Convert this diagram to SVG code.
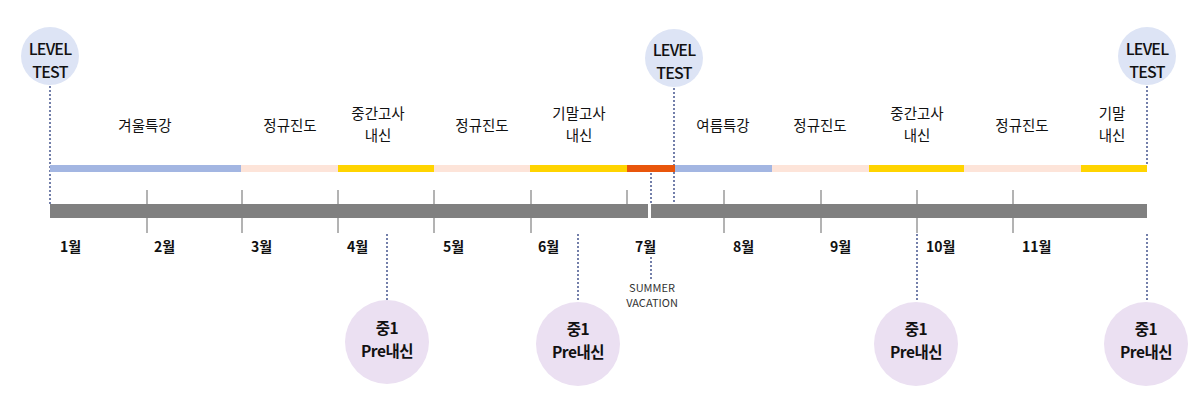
<svg xmlns="http://www.w3.org/2000/svg" width="1200" height="400" viewBox="0 0 1200 400">
<style>
text{font-family:"Noto Sans CJK KR","Malgun Gothic",sans-serif;fill:#111;text-anchor:middle}
.lt{font-size:16px;font-weight:500;letter-spacing:-0.8px}
.ph{font-size:14.5px}
.mo{font-size:14px;font-weight:700;text-anchor:start}
.pre{font-size:15.5px;font-weight:700;letter-spacing:-0.5px}
.sv{font-size:11px;fill:#333}
.lc{fill:#dde4f5}
.pc{fill:#ebe0f2}
.dot{stroke:#45558f;stroke-width:1.5;stroke-dasharray:2 2;fill:none}
.tick{stroke:#9a9a9a;stroke-width:1.5}
.bar{fill:#808080}
.blue{fill:#a3b6e2}.peach{fill:#fde4d9}.yel{fill:#ffd400}.org{fill:#e9560c}
</style>
<g id="connectors">
<line class="dot" x1="50" y1="86" x2="50" y2="204"/>
<line class="dot" x1="674" y1="88" x2="674" y2="204"/>
<line class="dot" x1="1147" y1="86" x2="1147" y2="165"/>
<line class="dot" x1="651" y1="173" x2="651" y2="204"/>
<line class="dot" x1="651" y1="257" x2="651" y2="279"/>
<line class="dot" x1="387" y1="234" x2="387" y2="300"/>
<line class="dot" x1="578" y1="234" x2="578" y2="300"/>
<line class="dot" x1="917" y1="234" x2="917" y2="300"/>
<line class="dot" x1="1147" y1="234" x2="1147" y2="300"/>
</g>
<g id="phase-bar">
<rect class="blue" x="50" y="165" width="191" height="7"/>
<rect class="peach" x="241" y="165" width="97" height="7"/>
<rect class="yel" x="338" y="165" width="96" height="7"/>
<rect class="peach" x="434" y="165" width="96" height="7"/>
<rect class="yel" x="530" y="165" width="97" height="7"/>
<rect class="org" x="627" y="165" width="48" height="7"/>
<rect class="blue" x="675" y="165" width="97" height="7"/>
<rect class="peach" x="772" y="165" width="97" height="7"/>
<rect class="yel" x="869" y="165" width="95" height="7"/>
<rect class="peach" x="964" y="165" width="117" height="7"/>
<rect class="yel" x="1081" y="165" width="66" height="7"/>
</g>
<g id="phase-labels">
<text class="ph" x="145" y="131">겨울특강</text>
<text class="ph" x="290" y="131">정규진도</text>
<text class="ph" x="378" y="119">중간고사</text>
<text class="ph" x="378" y="141">내신</text>
<text class="ph" x="482" y="131">정규진도</text>
<text class="ph" x="579" y="119">기말고사</text>
<text class="ph" x="579" y="141">내신</text>
<text class="ph" x="723" y="131">여름특강</text>
<text class="ph" x="820" y="131">정규진도</text>
<text class="ph" x="917" y="119">중간고사</text>
<text class="ph" x="917" y="141">내신</text>
<text class="ph" x="1022" y="131">정규진도</text>
<text class="ph" x="1112" y="119">기말</text>
<text class="ph" x="1112" y="141">내신</text>
</g>
<g id="axis">
<line class="tick" x1="147" y1="190" x2="147" y2="233"/>
<line class="tick" x1="242" y1="190" x2="242" y2="233"/>
<line class="tick" x1="338" y1="190" x2="338" y2="233"/>
<line class="tick" x1="434" y1="190" x2="434" y2="233"/>
<line class="tick" x1="531" y1="190" x2="531" y2="233"/>
<line class="tick" x1="627" y1="190" x2="627" y2="204"/>
<line class="tick" x1="724" y1="190" x2="724" y2="233"/>
<line class="tick" x1="821" y1="190" x2="821" y2="233"/>
<line class="tick" x1="917" y1="190" x2="917" y2="233"/>
<line class="tick" x1="1013" y1="190" x2="1013" y2="233"/>
<rect class="bar" x="50" y="204" width="598" height="14"/>
<rect class="bar" x="651" y="204" width="496" height="14"/>
</g>
<g id="months">
<text class="mo" x="60" y="252">1월</text>
<text class="mo" x="154" y="252">2월</text>
<text class="mo" x="251" y="252">3월</text>
<text class="mo" x="347" y="252">4월</text>
<text class="mo" x="443" y="252">5월</text>
<text class="mo" x="538" y="252">6월</text>
<text class="mo" x="635" y="252">7월</text>
<text class="mo" x="733" y="252">8월</text>
<text class="mo" x="830" y="252">9월</text>
<text class="mo" x="926" y="252">10월</text>
<text class="mo" x="1022" y="252">11월</text>
</g>
<g id="summer-vacation">
<text class="sv" x="652" y="292">SUMMER</text>
<text class="sv" x="652" y="307">VACATION</text>
</g>
<g id="level-test-1">
<circle class="lc" cx="50" cy="56" r="29"/>
<text class="lt" x="50" y="55">LEVEL</text>
<text class="lt" x="50" y="78">TEST</text>
</g>
<g id="level-test-2">
<circle class="lc" cx="674" cy="58" r="29"/>
<text class="lt" x="674" y="56">LEVEL</text>
<text class="lt" x="674" y="79">TEST</text>
</g>
<g id="level-test-3">
<circle class="lc" cx="1147" cy="56" r="29"/>
<text class="lt" x="1147" y="55">LEVEL</text>
<text class="lt" x="1147" y="78">TEST</text>
</g>
<g id="pre-1">
<circle class="pc" cx="387" cy="342" r="42"/>
<text class="pre" x="387" y="334">중1</text>
<text class="pre" x="387" y="357">Pre내신</text>
</g>
<g id="pre-2">
<circle class="pc" cx="578" cy="344" r="42"/>
<text class="pre" x="578" y="335">중1</text>
<text class="pre" x="578" y="358">Pre내신</text>
</g>
<g id="pre-3">
<circle class="pc" cx="916" cy="344" r="42"/>
<text class="pre" x="916" y="335">중1</text>
<text class="pre" x="916" y="358">Pre내신</text>
</g>
<g id="pre-4">
<circle class="pc" cx="1146" cy="344" r="42"/>
<text class="pre" x="1146" y="335">중1</text>
<text class="pre" x="1146" y="358">Pre내신</text>
</g>
</svg>
